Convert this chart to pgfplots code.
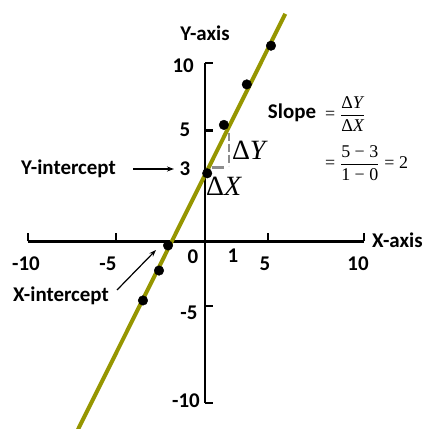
\documentclass[border=0pt]{standalone}
\usepackage{fontspec}
\usepackage{pgfplots}
\pgfplotsset{compat=1.18}
\usetikzlibrary{arrows.meta}
\setmainfont{Carlito}
\newfontfamily\tms{Liberation Serif}
\newcommand{\T}[1]{\mbox{\tms #1}}
\definecolor{lineolive}{RGB}{150,150,0}
\definecolor{dashgrey}{RGB}{140,140,140}
\begin{document}
\begin{tikzpicture}[x=1bp,y=1bp]
\useasboundingbox (0,0) rectangle (425,429);
\begin{axis}[
  at={(205bp,187.5bp)}, anchor=origin,
  x=22bp, y=22bp,
  xmin=-8.05, xmax=7.23, ymin=-7.33, ymax=8.1,
  axis lines=middle,
  axis line style={line width=2.8bp,-},
  xtick={-8.05,-4.05,2.86,7.23},
  ytick={-7.33,-2.93,5.05,8.1},
  xticklabels={}, yticklabels={},
  tick align=inside,
  major tick length=8bp,
  tick style={black, line width=2.4bp},
  clip=false,
]
\addplot[lineolive, line width=4bp] coordinates {(-6,-9) (3.65,10.35)};
\addplot[only marks, mark=*, mark size=4.8bp, black] coordinates {(3.0,8.9) (1.9,7.14) (0.86,5.3) (0.1,3.1) (-1.68,-0.18) (-2.09,-1.32) (-2.82,-2.68)};
\draw[dashgrey, line width=2.2bp, dash pattern=on 8bp off 3bp] (axis cs:1.1,4.95) -- (axis cs:1.1,3.45);
\draw[dashgrey, line width=2.2bp] (axis cs:0.33,3.36) -- (axis cs:0.85,3.36);
\end{axis}
\begin{scope}[every node/.style={inner sep=0, font=\bfseries\fontsize{21}{24}\selectfont}]
\node at (205,396) {Y-axis};
\node[anchor=west] at (372,189) {X-axis};
\node at (68.5,260) {Y-intercept};
\node at (61,133) {X-intercept};
\node[anchor=east] at (194,363) {10};
\node at (185,299) {5};
\node at (185,260) {3};
\node at (189,116) {-5};
\node at (186,28) {-10};
\node at (26,165) {-10};
\node at (108,165) {-5};
\node at (193,172) {0};
\node at (233,173) {1};
\node at (265,165) {5};
\node at (358,165) {10};
\node at (292,316) {Slope};
\end{scope}
\draw[-{Stealth[length=7bp,width=5bp]}, line width=1.2bp] (133,260) -- (174,260);
\draw[-{Stealth[length=7bp,width=5bp]}, line width=1.2bp] (117,139) -- (156,179);
\node[inner sep=0, font=\tms\fontsize{28}{30}\selectfont] at (250,279) {Δ\textit{Y}};
\node[inner sep=0, font=\tms\fontsize{28}{30}\selectfont] at (224,243) {Δ\textit{X}};
\node[anchor=west, inner sep=0, font=\tms\fontsize{18}{21}\selectfont] at (325,315)
  {$\displaystyle \mathrel{\T{=}} \frac{\T{Δ\textit{Y}}}{\T{Δ\textit{X}}}$};
\node[anchor=west, inner sep=0, font=\tms\fontsize{18}{21}\selectfont] at (325,266)
  {$\displaystyle \mathrel{\T{=}} \frac{\T{5 − 3}}{\T{1 − 0}} \mathrel{\T{=}} \T{2}$};
\end{tikzpicture}
\end{document}
